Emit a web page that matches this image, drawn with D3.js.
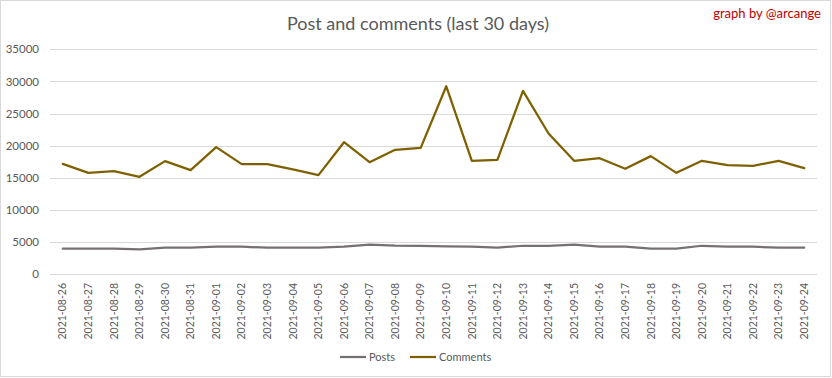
<!DOCTYPE html>
<html>
<head>
<meta charset="utf-8">
<script src="https://cdn.jsdelivr.net/npm/d3@7"></script>
<style>
html,body{margin:0;padding:0;background:#fff;}
svg{display:block;}
text{font-family:Lato,"Open Sans",sans-serif;}
</style>
</head>
<body>
<svg id="chart" width="832" height="378"></svg>
<script>
const dates = ["2021-08-26","2021-08-27","2021-08-28","2021-08-29","2021-08-30","2021-08-31","2021-09-01","2021-09-02","2021-09-03","2021-09-04","2021-09-05","2021-09-06","2021-09-07","2021-09-08","2021-09-09","2021-09-10","2021-09-11","2021-09-12","2021-09-13","2021-09-14","2021-09-15","2021-09-16","2021-09-17","2021-09-18","2021-09-19","2021-09-20","2021-09-21","2021-09-22","2021-09-23","2021-09-24"];
const posts = [3950,3950,3950,3850,4100,4100,4250,4250,4100,4100,4100,4250,4560,4410,4400,4300,4250,4100,4400,4400,4560,4250,4250,3950,3950,4400,4250,4250,4100,4100];
const comments = [17150,15760,16020,15140,17580,16180,19760,17110,17110,16300,15400,20530,17420,19340,19650,29240,17630,17790,28520,21880,17630,18040,16390,18360,15760,17630,16960,16850,17630,16490];
const yTicks = [0,5000,10000,15000,20000,25000,30000,35000];
const seriesNames = ["Posts","Comments"];
const colors = ["#767171","#7f6000"];

const svg = d3.select("#chart");
svg.append("rect").attr("x",0.5).attr("y",0.5).attr("width",830).attr("height",376)
  .attr("fill","#fff").attr("stroke","#d9d9d9");

const pLeft = 50, pRight = 817, pTop = 49.3, pBottom = 274;
const x = d3.scaleBand().domain(dates).range([pLeft,pRight]);
const y = d3.scaleLinear().domain([0,35000]).range([pBottom,pTop]);

// grid
svg.append("g").selectAll("line").data(yTicks).join("line")
  .attr("x1",pLeft).attr("x2",pRight)
  .attr("y1",d=>Math.round(y(d))+0.5).attr("y2",d=>Math.round(y(d))+0.5)
  .attr("stroke","#d9d9d9").attr("stroke-width",1);

// y axis
const yAxis = svg.append("g").attr("transform",`translate(${pLeft-11},0)`)
  .call(d3.axisLeft(y).tickValues(yTicks).tickSize(0).tickPadding(0).tickFormat(d3.format("d")));
yAxis.select(".domain").remove();
yAxis.selectAll("text").attr("fill","#595959").style("font-size","11.5px").style("font-family","Lato,sans-serif");

// x axis
const xAxis = svg.append("g").attr("transform",`translate(0,${pBottom})`)
  .call(d3.axisBottom(x).tickSize(0));
xAxis.select(".domain").remove();
xAxis.selectAll("text")
  .attr("fill","#595959").style("font-size","10.5px").style("font-family","Lato,sans-serif")
  .attr("text-anchor","end")
  .attr("transform","rotate(-90)")
  .attr("x",-9).attr("y",0).attr("dy","0.35em");

// lines
const line = d3.line().x((d,i)=>x(dates[i])+x.bandwidth()/2).y(d=>y(d));
[posts,comments].forEach((s,k)=>{
  svg.append("path").datum(s).attr("d",line).attr("fill","none")
    .attr("stroke",colors[k]).attr("stroke-width",2.25).attr("stroke-linejoin","round").attr("stroke-linecap","round");
});

// title
svg.append("text").attr("x",418).attr("y",30).attr("text-anchor","middle")
  .attr("fill","#595959").style("font-size","18px").text("Post and comments (last 30 days)");
svg.append("text").attr("x",821).attr("y",18).attr("text-anchor","end")
  .attr("fill","#c00000").style("font-size","13px").text("graph by @arcange");

// legend
const legX = [340,410];
seriesNames.forEach((n,k)=>{
  svg.append("line").attr("x1",legX[k]).attr("x2",legX[k]+26).attr("y1",357).attr("y2",357)
    .attr("stroke",colors[k]).attr("stroke-width",2.25);
  svg.append("text").attr("x",legX[k]+29).attr("y",357).attr("dy","0.35em")
    .attr("fill","#595959").style("font-size","11px").text(n);
});
</script>
</body>
</html>
